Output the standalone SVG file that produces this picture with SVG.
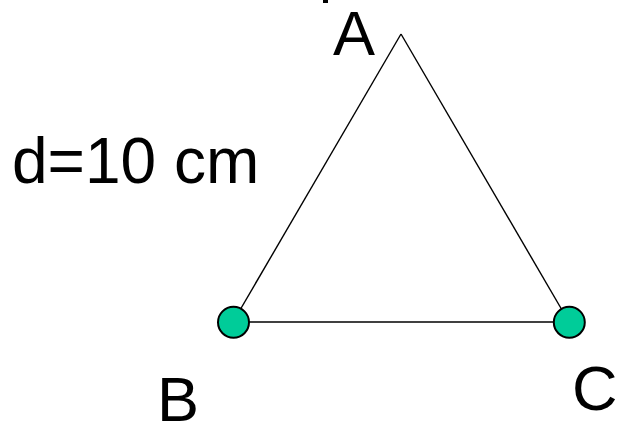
<svg xmlns="http://www.w3.org/2000/svg" width="617" height="426" viewBox="0 0 617 426">
<style>
.lbl{font-family:"Liberation Sans",Arial,sans-serif;font-size:63px;fill:#000}
.edge{stroke:#000;stroke-width:1.4;fill:none}
.pt{fill:#00CC99;stroke:#000;stroke-width:2}
</style>
<rect x="0" y="0" width="617" height="426" fill="#fff"/>
<rect x="323" y="0" width="5" height="3" fill="#000"/>
<g id="connectors">
<line class="edge" x1="233" y1="322" x2="401" y2="34"/>
<line class="edge" x1="401" y1="34" x2="569" y2="322"/>
<line class="edge" x1="233" y1="322" x2="569" y2="322"/>
</g>
<g id="nodeA"><text class="lbl" x="333" y="55">A</text></g>
<g id="nodeB"><circle class="pt" cx="233.5" cy="322.3" r="15.5"/><text class="lbl" x="157" y="421">B</text></g>
<g id="nodeC"><circle class="pt" cx="569.3" cy="322.3" r="15.5"/><text class="lbl" x="572" y="410">C</text></g>
<g id="label"><text class="lbl" x="12" y="183" style="font-size:64px">d=10 cm</text></g>
</svg>
